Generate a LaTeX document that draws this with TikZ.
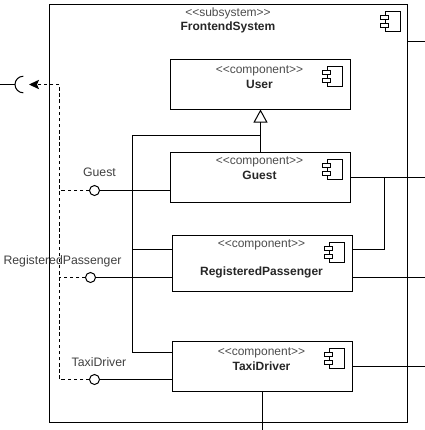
\documentclass[tikz,border=0pt]{standalone}
\usepackage{fontspec}
\setmainfont{Liberation Sans}
\usetikzlibrary{arrows.meta}
\tikzset{
	comp/.style={draw,line width=0.75pt,minimum width=135pt,anchor=north west,inner sep=0pt,outer sep=0pt},
	stereo/.style={text=black!70,font=\fontsize{9pt}{10pt}\selectfont,inner sep=0pt},
	title/.style={font=\fontsize{9pt}{10pt}\selectfont\bfseries,text=black!85,inner sep=0pt},
	port/.style={draw,circle,fill=white,line width=0.75pt,minimum size=7.5pt,inner sep=0pt,outer sep=0pt},
	portlabel/.style={text=black!75,font=\fontsize{9.2pt}{10pt}\selectfont,inner sep=0pt},
	wire/.style={line width=0.75pt},
	dep/.style={line width=0.75pt,dash pattern=on 2.6pt off 2pt}
}
\newcommand{\compicon}[1]{
	\draw[line width=0.6pt] (#1) ++(-5,-10) rectangle ++(15,20);
	\draw[line width=0.6pt,fill=white] (#1) ++(-10.5,-6) rectangle ++(8,4);
	\draw[line width=0.6pt,fill=white] (#1) ++(-10.5,2) rectangle ++(8,4);
}
\begin{document}
\begin{tikzpicture}[x=0.75pt,y=-0.75pt]
	\useasboundingbox (0,0) rectangle (425,430);
	\node[comp,minimum width=268.5pt,minimum height=313.5pt] (frontend) at (49.5,4.5) {};
	\node[comp,minimum height=37.5pt] (user) at (170.5,59.5) {};
	\node[comp,minimum height=37.5pt] (guest) at (170.5,152.5) {};
	\node[comp,minimum height=42pt] (registered) at (172.5,235.5) {};
	\node[comp,minimum height=37.5pt] (driver) at (172.5,341.5) {};
	% stereotypes and names
	\node[stereo] (frontendstereo) at (228,13.5) {<{}<subsystem>{}>};
	\node[title] (frontendname) at (228,27) {FrontendSystem};
	\node[stereo] (userstereo) at (259.5,71) {<{}<component>{}>};
	\node[title] (username) at (259.5,84) {User};
	\node[stereo] (gueststereo) at (259.5,162) {<{}<component>{}>};
	\node[title] (guestname) at (259.5,175) {Guest};
	\node[stereo] (registeredstereo) at (261.5,244.5) {<{}<component>{}>};
	\node[title] (registeredname) at (261.5,272) {RegisteredPassenger};
	\node[stereo] (driverstereo) at (261.5,352.5) {<{}<component>{}>};
	\node[title] (drivername) at (261.5,366) {TaxiDriver};
	\compicon{390.5,21}
	\compicon{332.5,76}
	\compicon{332.5,169.5}
	\compicon{334.5,252.5}
	\compicon{334.5,358.5}
	% ports
	\node[port] (guestport) at (94.5,190.5) {};
	\node[port] (registeredport) at (90.5,277.5) {};
	\node[port] (driverport) at (94.5,379.5) {};
	\node[portlabel] (guestlabel) at (99.5,172) {Guest};
	\node[portlabel] (registeredlabel) at (62.5,261) {RegisteredPassenger};
	\node[portlabel] (driverlabel) at (99,362) {TaxiDriver};
	\draw[wire] (guestport) -- (guestport -| guest.west);
	\draw[wire] (registeredport) -- (registeredport -| registered.west);
	\draw[wire] (driverport) -- (driverport -| driver.west);
	% generalization
	\coordinate (trunk) at (260.5,135.5);
	\coordinate (bus) at (132.5,135.5);
	\coordinate (registeredin) at (172.5,249.5);
	\coordinate (driverin) at (172.5,352);
	\draw[wire,-{Triangle[open,length=9.75pt,width=10.5pt]}] (guest.north) -- (user.south);
	\draw[wire] (trunk) -- (bus) |- (driverin);
	\draw[wire] (bus |- registeredin) -- (registeredin);
	% dependency
	\coordinate (railtop) at (59.5,84.5);
	\coordinate (arrowend) at (29,84.5);
	\draw[dep,-{Stealth[length=7.5pt,width=7pt,inset=1.5pt]}] (driverport.west) -| (railtop) -- (arrowend);
	\draw[dep] (guestport.west) -- (guestport.west -| railtop);
	\draw[dep] (registeredport.west) -- (registeredport.west -| railtop);
	% required interface
	\coordinate (offleft) at (0,84.5);
	\coordinate (socket) at (15,84.5);
	\coordinate (sockettop) at (23.3,76.2);
	\draw[wire] (offleft) -- (socket);
	\draw[wire] (sockettop) arc[start angle=270,end angle=90,radius=8.3];
	% right side
	\coordinate (frontout) at (407.5,41);
	\coordinate (offtop) at (425,41);
	\coordinate (guestout) at (350.5,177.5);
	\coordinate (offguest) at (425,177.5);
	\coordinate (link) at (384.5,177.5);
	\coordinate (registeredup) at (352.5,249.5);
	\coordinate (registeredout) at (352.5,277.5);
	\coordinate (offregistered) at (425,277.5);
	\coordinate (driverout) at (352.5,366.5);
	\coordinate (offdriver) at (425,366.5);
	\coordinate (offbottom) at (262.5,430);
	\draw[wire] (frontout) -- (offtop);
	\draw[wire] (guestout) -- (offguest);
	\draw[wire] (link) |- (registeredup);
	\draw[wire] (registeredout) -- (offregistered);
	\draw[wire] (driverout) -- (offdriver);
	\draw[wire] (driver.south) -- (offbottom);
\end{tikzpicture}
\end{document}
